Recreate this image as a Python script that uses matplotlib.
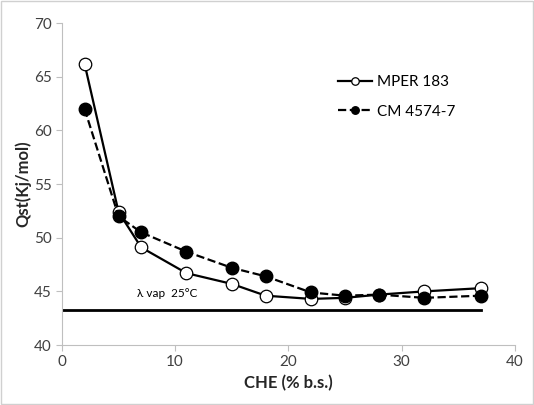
import matplotlib.pyplot as plt

plt.rcParams['font.family'] = ['Lato', 'DejaVu Sans']

che = [2, 5, 7, 11, 15, 18, 22, 25, 28, 32, 37]
mper = [66.2, 52.4, 49.1, 46.7, 45.7, 44.6, 44.3, 44.4, 44.7, 45.0, 45.3]
cm = [62.0, 52.0, 50.5, 48.7, 47.2, 46.4, 44.9, 44.6, 44.7, 44.4, 44.6]
lambda_vap = 43.3

fig = plt.figure(figsize=(5.34, 4.05), dpi=100)
ax = fig.add_axes([0.116, 0.148, 0.848, 0.795])

ax.plot([0, 37], [lambda_vap, lambda_vap], color='black', linewidth=2)
ax.plot(che, mper, '-o', color='black', linewidth=1.6, markersize=9,
        markerfacecolor='white', markeredgecolor='black', markeredgewidth=0.9,
        label='MPER 183', zorder=3)
ax.plot(che, cm, '--o', color='black', linewidth=1.6, markersize=9,
        markerfacecolor='black', label='CM 4574-7', zorder=3)
ax.text(6.6, 44.45, 'λ vap  25°C', fontsize=8.5)

ax.set_xlim(0, 40)
ax.set_ylim(40, 70)
ax.set_xticks(range(0, 41, 10))
ax.set_yticks(range(40, 71, 5))
for s in ['top', 'right']:
    ax.spines[s].set_visible(False)
for s in ['left', 'bottom']:
    ax.spines[s].set_color('#bfbfbf')
ax.tick_params(colors='#bfbfbf', labelcolor='#404040', labelsize=11, length=4)

ax.set_xlabel('CHE (% b.s.)', fontsize=12, fontweight='bold', color='#262626')
ax.set_ylabel('Qst(Kj/mol)', fontsize=12, fontweight='bold', color='#262626', labelpad=2)

ax.legend(loc='upper left', bbox_to_anchor=(0.58, 0.88), frameon=False, fontsize=11,
          markerscale=0.6, handlelength=2.2, labelspacing=1.0, handletextpad=0.3)

fig.patches.append(plt.Rectangle((0.002, 0.002), 0.996, 0.996, transform=fig.transFigure,
                                 fill=False, edgecolor='#d0d0d0', linewidth=1))
fig.savefig('out.png', dpi=100)
